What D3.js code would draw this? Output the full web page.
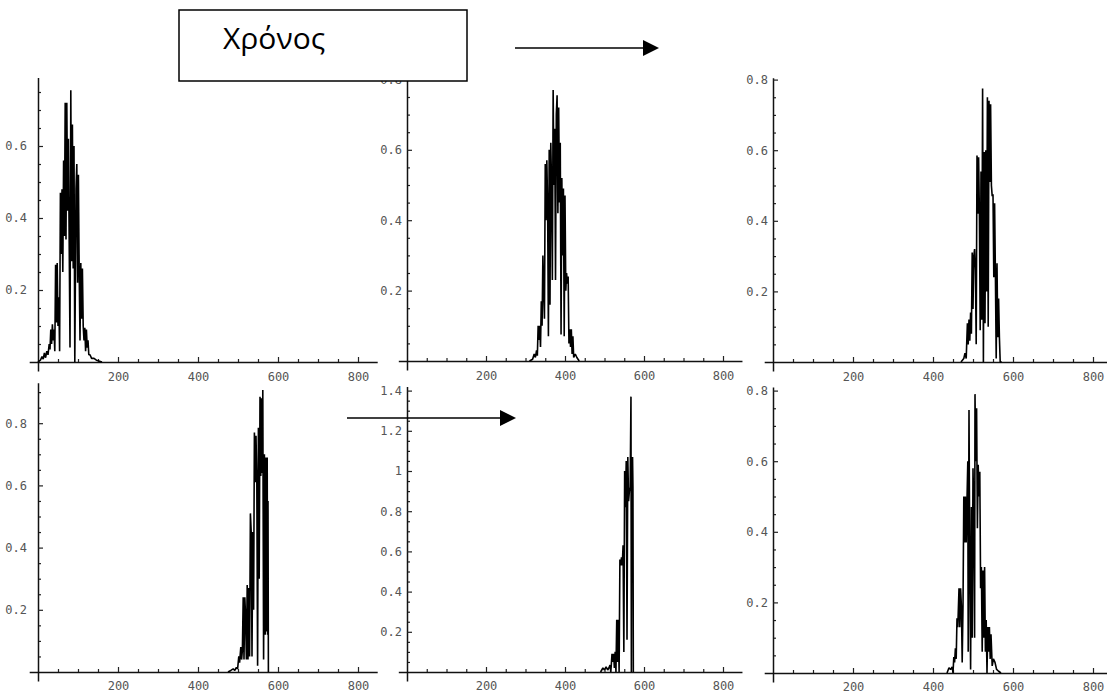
<!DOCTYPE html>
<html>
<head>
<meta charset="utf-8">
<script src="https://cdn.jsdelivr.net/npm/d3@7"></script>
<style>
  body { margin: 0; background: #fff; }
  svg { display: block; }
</style>
</head>
<body>
<script>
// ---- data: [x, value] pairs for each panel ----
const packet1 = [
    [0, 0], [6, 0.005], [10, 0.015], [13, 0.008], [16, 0.025], [19, 0.012], [22, 0.03], [25, 0.02],
    [28, 0.05], [30, 0.035], [32, 0.09], [34, 0.05], [36, 0.105], [38, 0.06], [40, 0.09], [42, 0.03],
    [44, 0.27], [46, 0.11], [48, 0.275], [50, 0.1], [52, 0.18], [54, 0.03], [56, 0.47], [58, 0.3],
    [60, 0.48], [62, 0.25], [64, 0.56], [66, 0.35], [68, 0.72], [70, 0.34], [72, 0.72], [74, 0.42],
    [76, 0.62], [78, 0.33], [80, 0.04], [82, 0.755], [84, 0.28], [86, 0.66], [88, 0.26], [90, 0.6],
    [92, 0], [95, 0.48], [97, 0.55], [99, 0.22], [101, 0.52], [103, 0.25], [105, 0.06], [107, 0.275],
    [109, 0.12], [111, 0.26], [113, 0.1], [115, 0.06], [117, 0.095], [119, 0.03], [121, 0.09], [123, 0.04],
    [125, 0.06], [127, 0.02], [130, 0.02], [134, 0.01], [140, 0.01], [146, 0.005], [152, 0.003], [160, 0]
]
const packet2 = [
    [310, 0], [318, 0.005], [322, 0.02], [325, 0.01], [328, 0.03], [330, 0.015], [332, 0.1], [334, 0.06],
    [336, 0.1], [338, 0.04], [340, 0.17], [342, 0.1], [344, 0.3], [346, 0.2], [348, 0.12], [350, 0.56],
    [352, 0.4], [354, 0.57], [356, 0.44], [358, 0.07], [360, 0.6], [362, 0.16], [364, 0.62], [366, 0.5],
    [368, 0.23], [370, 0.77], [372, 0.5], [374, 0.66], [376, 0.23], [378, 0.7], [380, 0.755], [382, 0.42],
    [384, 0.72], [386, 0.45], [388, 0.62], [390, 0.075], [392, 0.52], [394, 0.3], [396, 0.49], [398, 0.07],
    [400, 0.47], [402, 0.2], [404, 0.25], [406, 0.22], [408, 0.24], [410, 0.05], [412, 0.09], [414, 0.04],
    [416, 0.09], [418, 0.02], [420, 0.07], [422, 0.01], [426, 0.02], [430, 0.01], [436, 0]
]
const packet3 = [
    [470, 0], [477, 0.01], [480, 0.025], [483, 0.01], [486, 0.11], [488, 0.05], [490, 0.12], [492, 0.06],
    [494, 0.14], [496, 0.08], [498, 0.31], [500, 0.15], [502, 0.3], [504, 0.32], [506, 0.26], [508, 0.05],
    [510, 0.585], [512, 0.42], [514, 0.58], [516, 0.42], [518, 0.09], [520, 0.54], [522, 0.12], [524, 0.775],
    [526, 0], [528, 0.595], [530, 0.11], [532, 0.6], [534, 0.2], [536, 0.75], [538, 0.1], [540, 0.74],
    [542, 0.51], [544, 0.73], [546, 0.5], [548, 0.47], [550, 0.475], [552, 0.24], [554, 0.45], [556, 0.25],
    [558, 0.01], [560, 0.28], [562, 0.07], [564, 0.18], [566, 0.07], [568, 0], [572, 0]
]
const packet4 = [
    [475, 0], [482, 0.005], [488, 0.01], [492, 0.005], [496, 0.015], [499, 0.01], [502, 0.05], [504, 0.03],
    [507, 0.08], [509, 0.04], [511, 0.07], [513, 0.24], [515, 0.04], [517, 0.24], [519, 0.18], [521, 0.04],
    [523, 0.28], [525, 0.04], [527, 0.27], [529, 0.05], [531, 0.51], [533, 0.45], [535, 0.05], [537, 0.45],
    [539, 0.2], [541, 0.77], [543, 0.61], [545, 0.76], [547, 0.62], [549, 0.02], [551, 0.785], [553, 0.3],
    [555, 0.885], [557, 0.63], [559, 0.88], [561, 0.64], [562, 0.907], [564, 0.04], [566, 0.7], [568, 0.12],
    [569, 0.69], [570, 0.14], [571, 0.68], [572, 0.13], [573, 0.69], [574, 0.12], [575, 0.55], [576, 0]
]
const packet5 = [
    [490, 0], [496, 0.02], [500, 0.01], [504, 0.025], [508, 0.01], [511, 0.02], [514, 0.035], [516, 0],
    [519, 0.09], [521, 0.05], [523, 0.09], [525, 0.02], [527, 0.1], [529, 0], [531, 0.26], [533, 0.05],
    [535, 0.26], [537, 0], [539, 0.56], [541, 0.53], [543, 0.57], [545, 0.53], [547, 0.63], [549, 0.1],
    [551, 1.0], [553, 0.82], [555, 1.05], [557, 0.16], [559, 1.07], [561, 0.85], [563, 0.9], [565, 0.92],
    [567, 1.37], [568, 0], [569, 1.07], [570, 0.9], [571, 1.07], [572, 0.92], [573, 0]
]
const packet6 = [
    [435, 0], [440, 0.015], [444, 0.01], [448, 0.017], [450, 0], [452, 0.045], [454, 0.03], [456, 0.07],
    [458, 0.04], [460, 0.155], [462, 0.13], [465, 0.24], [467, 0.13], [469, 0.24], [471, 0.19], [473, 0.03],
    [475, 0.19], [477, 0.5], [479, 0.37], [481, 0.5], [483, 0.37], [485, 0.49], [487, 0.6], [488, 0.06],
    [490, 0.745], [492, 0.3], [494, 0.01], [496, 0.47], [498, 0.1], [500, 0.58], [502, 0.45], [504, 0.1],
    [505, 0.79], [507, 0.6], [509, 0.75], [511, 0.41], [513, 0.59], [515, 0.5], [517, 0.57], [519, 0.24],
    [521, 0.3], [523, 0.06], [525, 0.29], [527, 0.1], [529, 0.3], [531, 0.06], [533, 0.15], [535, 0],
    [537, 0.13], [539, 0.06], [541, 0.13], [543, 0.04], [545, 0.11], [548, 0.02], [551, 0.04], [555, 0.03],
    [559, 0.01], [564, 0.005], [570, 0]
]

const xTicks = [200, 400, 600, 800]
const xMinorTicks = [50, 100, 150, 250, 300, 350, 450, 500, 550, 650, 700, 750]
const yTicksLow = [0.2, 0.4, 0.6]
const yTicksMid = [0.2, 0.4, 0.6, 0.8]
const yTicksHigh = [0.2, 0.4, 0.6, 0.8, 1, 1.2, 1.4]
const title = "Χρόνος"

// ---- layout: where each little plot sits (origin px, px per unit) ----
const panels = [
    { data: packet1, yTicks: yTicksLow,  ox: 38,  oy: 362, kx: 0.4,   ky: 360, top: 0.79, pad: 11 },
    { data: packet2, yTicks: yTicksMid,  ox: 407, oy: 361, kx: 0.395, ky: 352, top: 0.82, pad: 5 },
    { data: packet3, yTicks: yTicksMid,  ox: 773, oy: 362, kx: 0.4,   ky: 353, top: 0.805, pad: 5 },
    { data: packet4, yTicks: yTicksMid,  ox: 38,  oy: 672, kx: 0.4,   ky: 311, top: 0.93, pad: 11 },
    { data: packet5, yTicks: yTicksHigh, ox: 407, oy: 672, kx: 0.395, ky: 201, top: 1.42, pad: 5 },
    { data: packet6, yTicks: yTicksMid,  ox: 773, oy: 673, kx: 0.4,   ky: 353, top: 0.81, pad: 5 }
]

const svg = d3.select("body")
    .append("svg")
    .attr("width", 1107)
    .attr("height", 700)

const fmt = v => String(+v.toFixed(2))

panels.forEach(function (p) {
    const x = d3.scaleLinear()
        .domain([-22, 848])
        .range([p.ox - 22 * p.kx, p.ox + 848 * p.kx])

    const below = 9 / p.ky
    const y = d3.scaleLinear()
        .domain([-below, p.top])
        .range([p.oy + 9, p.oy - p.top * p.ky])

    const yMinor = d3.range(0.05, p.top, 0.05).filter(v => !p.yTicks.some(t => Math.abs(t - v) < 1e-6))

    const g = svg.append("g")

    // x axis, ticks point up into the plot
    g.append("g")
        .attr("transform", `translate(0,${p.oy})`)
        .call(d3.axisBottom(x).tickValues(xMinorTicks).tickSize(-3).tickSizeOuter(0).tickFormat(""))
        .call(a => a.select(".domain").remove())

    g.append("g")
        .attr("class", "axis")
        .attr("transform", `translate(0,${p.oy})`)
        .call(d3.axisBottom(x).tickValues(xTicks).tickSize(-5).tickSizeOuter(0).tickPadding(p.oy > 500 ? 9 : 10))

    // y axis, ticks point right
    g.append("g")
        .attr("transform", `translate(${p.ox},0)`)
        .call(d3.axisLeft(y).tickValues(yMinor).tickSize(-3).tickSizeOuter(0).tickFormat(""))
        .call(a => a.select(".domain").remove())

    g.append("g")
        .attr("class", "axis")
        .attr("transform", `translate(${p.ox},0)`)
        .call(d3.axisLeft(y).tickValues(p.yTicks).tickSize(-5).tickSizeOuter(0).tickPadding(p.pad).tickFormat(fmt))

    g.selectAll(".tick line").style("stroke", "#222").style("stroke-width", 1.2)
    g.selectAll(".domain").style("stroke", "#111").style("stroke-width", 1.5)
    g.selectAll(".tick text")
        .style("font-family", "'DejaVu Sans Mono', monospace")
        .style("font-size", "12px")
        .style("fill", "#555")

    const line = d3.line()
        .x(d => x(d[0]))
        .y(d => y(d[1]))

    g.append("path")
        .datum(p.data)
        .attr("d", line)
        .style("fill", "none")
        .style("stroke", "#000")
        .style("stroke-width", 1.6)
        .style("stroke-linejoin", "bevel")
})

// title box
svg.append("rect")
    .attr("x", 179)
    .attr("y", 10)
    .attr("width", 288)
    .attr("height", 71)
    .style("fill", "#fff")
    .style("stroke", "#000")
    .style("stroke-width", 1.5)

svg.append("text")
    .attr("x", 223)
    .attr("y", 49)
    .style("font-family", "'Open Sans', 'DejaVu Sans', sans-serif")
    .style("font-size", "30px")
    .style("fill", "#000")
    .text(title)

// time arrows
function arrow(x1, x2, yy) {
    svg.append("line")
        .attr("x1", x1).attr("x2", x2 - 14)
        .attr("y1", yy).attr("y2", yy)
        .style("stroke", "#000")
        .style("stroke-width", 1.6)
    svg.append("path")
        .attr("d", `M${x2 - 16},${yy - 8}L${x2},${yy}L${x2 - 16},${yy + 8}Z`)
        .style("fill", "#000")
}
arrow(515, 659, 48)
arrow(347, 516, 418)
</script>
</body>
</html>
